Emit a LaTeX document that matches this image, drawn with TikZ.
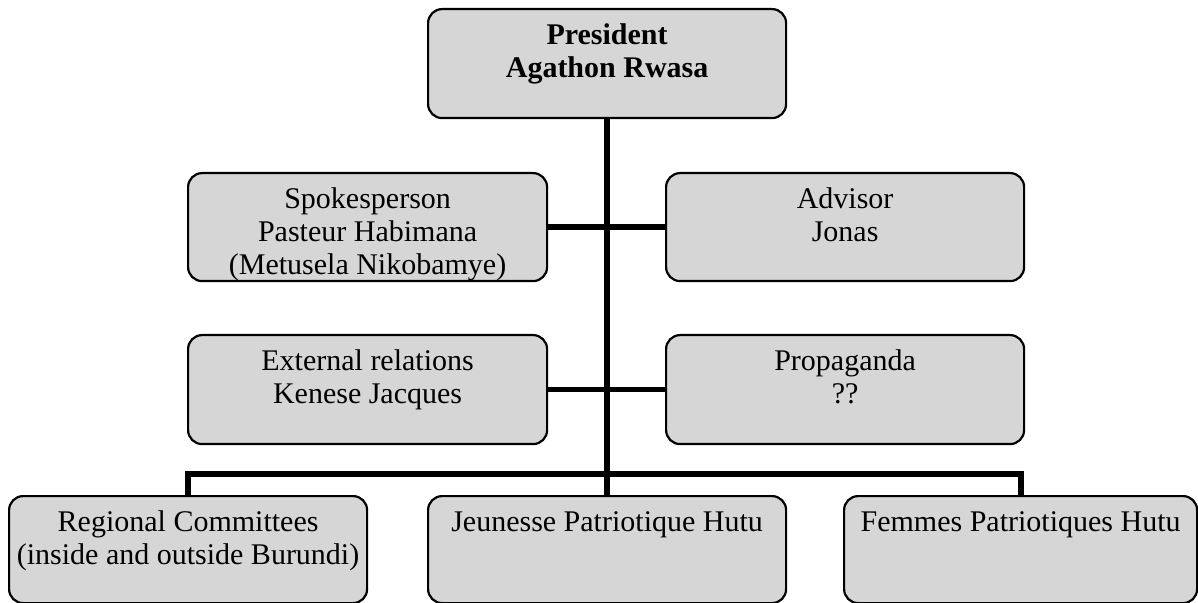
\documentclass[tikz,border=0pt]{standalone}
\usepackage{fontspec}
\setmainfont{Liberation Serif}
\definecolor{boxgray}{RGB}{214,214,214}
\newcommand\orgtext[3]{\begin{minipage}[t][#2][t]{#1}\centering\fontsize{15}{16.5}\selectfont\rule{0pt}{17.5pt}#3\end{minipage}}
\tikzset{
  orgbox/.style={draw=black, fill=boxgray, line width=1.1pt, rounded corners=7pt, inner sep=0pt, anchor=north west},
  link/.style={draw=black, line width=2.9pt}
}
\begin{document}
\begin{tikzpicture}[x=0.5pt,y=-0.5pt]
\useasboundingbox (0,0) rectangle (1198,603);
\node[orgbox] (pres) at (427,8) {\orgtext{179pt}{54.5pt}{\bfseries President\\Agathon Rwasa}};
\node[orgbox] (spk) at (187,172) {\orgtext{179.5pt}{54pt}{Spokesperson\\Pasteur Habimana\\(Metusela Nikobamye)}};
\node[orgbox] (adv) at (665,172) {\orgtext{179pt}{54pt}{Advisor\\Jonas}};
\node[orgbox] (ext) at (187,334) {\orgtext{179.5pt}{54.5pt}{External relations\\Kenese Jacques}};
\node[orgbox] (prop) at (665,334) {\orgtext{179pt}{54.5pt}{Propaganda\\??}};
\node[orgbox] (reg) at (8,495) {\orgtext{179pt}{53.5pt}{Regional Committees\\(inside and outside Burundi)}};
\node[orgbox] (jeu) at (427,495) {\orgtext{179pt}{53.5pt}{Jeunesse Patriotique Hutu}};
\node[orgbox] (fem) at (843,495) {\orgtext{176.5pt}{53.5pt}{Femmes Patriotiques Hutu}};
\coordinate (bar) at (606,474);
\draw[link] (pres.south) -- (jeu.north);
\draw[link] (spk.east) -- (adv.west);
\draw[link] (ext.east) -- (prop.west);
\draw[link] (reg.north) |- (bar) -| (fem.north);
\end{tikzpicture}
\end{document}
